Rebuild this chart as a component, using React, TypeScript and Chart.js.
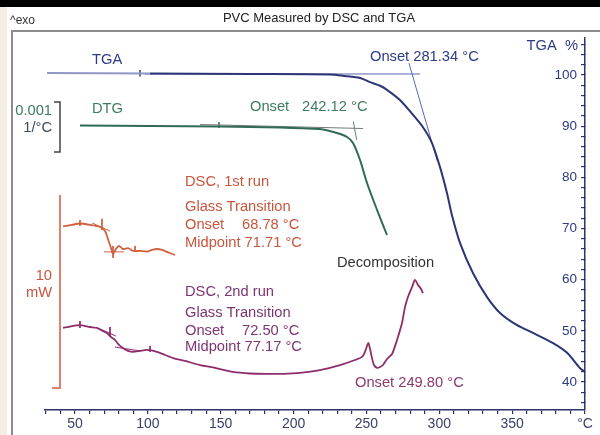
import React, { useEffect, useRef } from "react";
import { Chart, registerables } from "chart.js";
Chart.register(...registerables);

// ---------- data (temperature in °C) ----------
const xTickLabels = ["50", "100", "150", "200", "250", "300", "350", "°C"];
const tgaTickLabels = ["40", "50", "60", "70", "80", "90", "100"];

// TGA mass (%)
const tgaTemp = [30.8, 101.5, 170.1, 225.0, 235.3, 245.6, 252.5, 259.3, 264.1, 273.0, 282.0, 288.8, 295.0, 300.5, 305.3, 308.7, 314.2, 323.1, 332.8, 341.7, 353.4, 364.3, 378.1, 387.7, 396.6, 400];
const tgaPercent = [100.4, 100.3, 100.2, 100.1, 99.8, 99.4, 98.6, 97.9, 97.1, 95.1, 92.2, 89.8, 86.7, 82.0, 76.9, 72.6, 67.2, 61.3, 56.6, 53.5, 51.1, 49.6, 47.6, 45.7, 42.7, 42.0];
const tgaBaseTemp = [98.0, 286.8];
const tgaBasePct = [100.2, 100.2];
const tgaTanTemp = [279.2, 298.6];
const tgaTanPct = [102.3, 83.2];
const tgaMarkTemp = [94.6, 94.6];
const tgaMarkPct = [101.0, 99.7];

// DTG (10^-3 1/°C, arbitrary offset)
const dtgTemp = [53.4, 101.5, 149.5, 190.7, 218.1, 229.8, 236.7, 240.8, 245.6, 250.4, 257.3, 264.1];
const dtgValue = [0.01, 0.0, -0.01, -0.03, -0.06, -0.14, -0.22, -0.34, -0.68, -1.14, -1.68, -2.18];
const dtgBaseTemp = [135.8, 247.7];
const dtgBaseVal = [0.03, -0.05];
const dtgTanTemp = [241.0, 243.3];
const dtgTanVal = [0.09, -0.28];
const dtgMarkTemp = [148.8, 148.8];
const dtgMarkVal = [0.08, -0.04];
const dtgScaleTemp = [35.6, 39.7, 39.7, 35.6];
const dtgScaleVal = [0.48, 0.48, -0.52, -0.52];

// DSC heat flow (mW, arbitrary offset)
const dsc1Temp = [41.8, 47.9, 53.4, 60.3, 67.1, 70.6, 72.6, 74.7, 76.1, 78.1, 80.2, 82.9, 86.4, 89.8, 94.6, 99.4, 102.8, 106.3, 109.7, 113.1, 116.6, 118.6];
const dsc1Value = [9.51, 9.59, 9.66, 9.59, 9.48, 9.27, 8.86, 8.39, 8.08, 8.34, 8.50, 8.34, 8.39, 8.24, 8.24, 8.21, 8.29, 8.34, 8.29, 8.19, 8.08, 8.03];
const dsc2Temp = [41.8, 47.9, 53.4, 60.3, 65.1, 69.2, 71.9, 74.7, 77.4, 80.2, 82.9, 86.4, 89.8, 94.6, 99.4, 106.3, 111.8, 117.3, 125.5, 135.8, 146.1, 158.4, 170.1, 181.8, 192.8, 204.4, 218.1, 231.9, 242.2, 247.0, 249.0, 250.4, 251.4, 252.5, 253.8, 255.2, 257.3, 259.3, 261.4, 264.1, 267.6, 271.0, 274.4, 276.5, 278.5, 281.3, 283.3, 285.4, 287.5, 288.8];
const dsc2Value = [4.25, 4.35, 4.40, 4.30, 4.25, 4.09, 3.99, 3.78, 3.63, 3.37, 3.21, 3.06, 3.01, 3.06, 3.11, 3.01, 2.85, 2.69, 2.54, 2.33, 2.18, 1.97, 1.89, 1.87, 1.87, 1.92, 2.07, 2.33, 2.59, 2.75, 3.01, 3.32, 3.47, 3.16, 2.69, 2.33, 2.18, 2.23, 2.33, 2.64, 2.90, 3.63, 4.51, 5.34, 5.85, 6.37, 6.74, 6.48, 6.27, 6.06];
const dsc1Marks = [
  { t: [53.4, 53.4], v: [9.84, 9.53] },
  { t: [68.5, 68.5], v: [9.90, 9.33] },
  { t: [61.7, 74.0], v: [9.69, 9.27] },
  { t: [76.1, 76.1], v: [8.50, 7.88] },
  { t: [69.9, 83.6], v: [8.19, 8.19] },
  { t: [91.2, 91.2], v: [8.50, 8.19] },
];
const dsc2Marks = [
  { t: [53.4, 53.4], v: [4.61, 4.25] },
  { t: [74.0, 74.0], v: [4.30, 3.83] },
  { t: [67.1, 78.1], v: [4.20, 3.83] },
  { t: [77.4, 94.6], v: [3.26, 3.06] },
  { t: [101.5, 101.5], v: [3.32, 3.01] },
];
const dscScaleTemp = [39.7, 39.7, 34.2];
const dscScaleVal = [11.14, 1.14, 1.14];

// ---------- styles ----------
const FONT = "'Liberation Sans', Arial, Helvetica, sans-serif";
const NAVY = "#2d3577";
const NAVY_TXT = "#2e3a84";
const BLUE_THIN = "#5a66b0";
const GREEN = "#2f6b55";
const GREEN_TXT = "#3e7c5e";
const RED = "#d2603f";
const RED_TXT = "#c9553d";
const PURPLE = "#8e2d6b";
const PURPLE_TXT = "#7d3572";

const pts = (xs: number[], ys: number[]) => xs.map((x, i) => ({ x, y: ys[i] }));

type Txt = { s: string; x: number; y: number; c: string; size?: number; align?: CanvasTextAlign };
const texts: Txt[] = [
  { s: "^exo", x: 10, y: 21, c: "#333", size: 12 },
  { s: "PVC Measured by DSC and TGA", x: 319, y: 18, c: "#222", size: 13, align: "center" },
  { s: "TGA", x: 92, y: 60, c: NAVY_TXT },
  { s: "Onset 281.34 °C", x: 370, y: 57, c: NAVY_TXT },
  { s: "TGA  %", x: 578, y: 46, c: NAVY_TXT, align: "right" },
  { s: "0.001", x: 52, y: 111, c: GREEN_TXT, align: "right" },
  { s: "1/°C", x: 52, y: 128, c: "#3d4b5c", align: "right" },
  { s: "DTG", x: 92, y: 109, c: GREEN_TXT },
  { s: "Onset", x: 250, y: 107, c: GREEN_TXT },
  { s: "242.12 °C", x: 302, y: 107, c: GREEN_TXT },
  { s: "DSC, 1st run", x: 185, y: 182, c: RED_TXT },
  { s: "Glass Transition", x: 185, y: 207, c: RED_TXT },
  { s: "Onset", x: 185, y: 225, c: RED_TXT },
  { s: "68.78 °C", x: 242, y: 225, c: RED_TXT },
  { s: "Midpoint 71.71 °C", x: 185, y: 243, c: RED_TXT },
  { s: "10", x: 52, y: 276, c: RED_TXT, align: "right" },
  { s: "mW", x: 52, y: 293, c: RED_TXT, align: "right" },
  { s: "Decomposition", x: 337, y: 263, c: "#333" },
  { s: "DSC, 2nd run", x: 185, y: 292, c: PURPLE_TXT },
  { s: "Glass Transition", x: 185, y: 313, c: PURPLE_TXT },
  { s: "Onset", x: 185, y: 331, c: PURPLE_TXT },
  { s: "72.50 °C", x: 242, y: 331, c: PURPLE_TXT },
  { s: "Midpoint 77.17 °C", x: 185, y: 347, c: PURPLE_TXT },
  { s: "Onset 249.80 °C", x: 355, y: 383, c: "#8a3a70" },
];

const textPlugin = {
  id: "annotTexts",
  afterDraw(chart: any) {
    const ctx = chart.ctx as CanvasRenderingContext2D;
    ctx.save();
    ctx.textBaseline = "middle";
    for (const t of texts) {
      ctx.font = `${t.size ?? 14.7}px ${FONT}`;
      ctx.fillStyle = t.c;
      ctx.textAlign = t.align ?? "left";
      ctx.fillText(t.s, t.x, t.y);
    }
    ctx.restore();
  },
};

const ds = (label: string, data: any[], color: string, width: number, axis: string, extra: any = {}) => ({
  label,
  data,
  borderColor: color,
  borderWidth: width,
  pointRadius: 0,
  yAxisID: axis,
  fill: false,
  tension: 0,
  ...extra,
});

export default function App() {
  const ref = useRef<HTMLCanvasElement>(null);
  useEffect(() => {
    document.body.style.margin = "0";
    const ctx = ref.current!.getContext("2d")!;
    const datasets: any[] = [
      ds("TGA", pts(tgaTemp, tgaPercent), NAVY, 2, "tga", {
        tension: 0.25,
        segment: { borderColor: (c: any) => (c.p0.parsed.x < 95 ? "#8f97c8" : NAVY) },
      }),
      ds("TGA baseline", pts(tgaBaseTemp, tgaBasePct), BLUE_THIN, 1, "tga"),
      ds("TGA tangent", pts(tgaTanTemp, tgaTanPct), BLUE_THIN, 1, "tga"),
      ds("TGA mark", pts(tgaMarkTemp, tgaMarkPct), NAVY, 1.5, "tga"),
      ds("DTG", pts(dtgTemp, dtgValue), GREEN, 2, "dtg", { tension: 0.25 }),
      ds("DTG baseline", pts(dtgBaseTemp, dtgBaseVal), "#777", 1, "dtg"),
      ds("DTG tangent", pts(dtgTanTemp, dtgTanVal), "#4f8a70", 1, "dtg"),
      ds("DTG mark", pts(dtgMarkTemp, dtgMarkVal), GREEN, 1.5, "dtg"),
      ds("DTG scale", pts(dtgScaleTemp, dtgScaleVal), "#444", 1.5, "dtg"),
      ds("DSC 1st run", pts(dsc1Temp, dsc1Value), RED, 1.8, "dsc", { tension: 0.2 }),
      ds("DSC 2nd run", pts(dsc2Temp, dsc2Value), PURPLE, 1.8, "dsc", { tension: 0.2 }),
      ds("DSC scale", pts(dscScaleTemp, dscScaleVal), "#e0826a", 2, "dsc"),
      ...dsc1Marks.map((m, i) => ds("DSC1 mark " + i, pts(m.t, m.v), RED, 1, "dsc")),
      ...dsc2Marks.map((m, i) => ds("DSC2 mark " + i, pts(m.t, m.v), PURPLE, 1, "dsc")),
    ];
    const chart = new Chart(ctx, {
      type: "line",
      data: { datasets },
      options: {
        animation: false,
        responsive: false,
        maintainAspectRatio: false,
        layout: { padding: { left: 45, top: 38, right: 15, bottom: 0 } },
        plugins: { legend: { display: false }, tooltip: { enabled: false } },
        scales: {
          x: {
            type: "linear",
            min: 29.4,
            max: 400,
            afterFit: (s: any) => {
              s.height = 25;
            },
            border: { display: true, color: "#2b3266", width: 1.5 },
            grid: { drawOnChartArea: false, drawTicks: true, tickLength: 4, color: "#2b3266", lineWidth: 1.2 },
            ticks: {
              stepSize: 10,
              autoSkip: false,
              includeBounds: false,
              maxRotation: 0,
              padding: 2,
              color: "#3b4066",
              font: { size: 14, family: FONT },
              callback: (v: any) => {
                const n = Math.round(Number(v));
                if (n % 50 !== 0) return "";
                const idx = n / 50 - 1;
                return xTickLabels[idx] ?? "";
              },
            },
          },
          tga: {
            type: "linear",
            position: "right",
            min: 34.53,
            max: 107.23,
            afterFit: (s: any) => {
              s.width = 0;
            },
            border: { display: true, color: NAVY, width: 1.5 },
            grid: { drawOnChartArea: false, drawTicks: true, tickLength: -4, color: NAVY, lineWidth: 1.2 },
            ticks: {
              stepSize: 2,
              autoSkip: false,
              includeBounds: false,
              mirror: true,
              padding: -8,
              color: NAVY_TXT,
              font: { size: 13.5, family: FONT },
              callback: (v: any) => {
                const n = Math.round(Number(v));
                if (n % 10 !== 0) return "";
                const idx = n / 10 - 4;
                return tgaTickLabels[idx] ?? "";
              },
            },
          },
          dtg: { type: "linear", display: false, min: -5.68, max: 1.76 },
          dsc: { type: "linear", display: false, min: 0, max: 19.27 },
        },
      } as any,
      plugins: [textPlugin],
    });
    return () => chart.destroy();
  }, []);

  return (
    <div style={{ position: "fixed", left: 0, top: 0, width: 600, height: 435, background: "#fff", overflow: "hidden" }}>
      <div style={{ position: "absolute", left: 0, top: 0, width: 600, height: 7, background: "#000" }} />
      <div style={{ position: "absolute", left: 0, top: 7, width: 7, height: 428, background: "#f6eee5" }} />
      <div style={{ position: "absolute", left: 11, top: 30, width: 589, height: 2, background: "#8c8c8c" }} />
      <div style={{ position: "absolute", left: 11, top: 30, width: 2, height: 405, background: "#8c8c8c" }} />
      <canvas ref={ref} width={600} height={435} style={{ position: "absolute", left: 0, top: 0 }} />
    </div>
  );
}
